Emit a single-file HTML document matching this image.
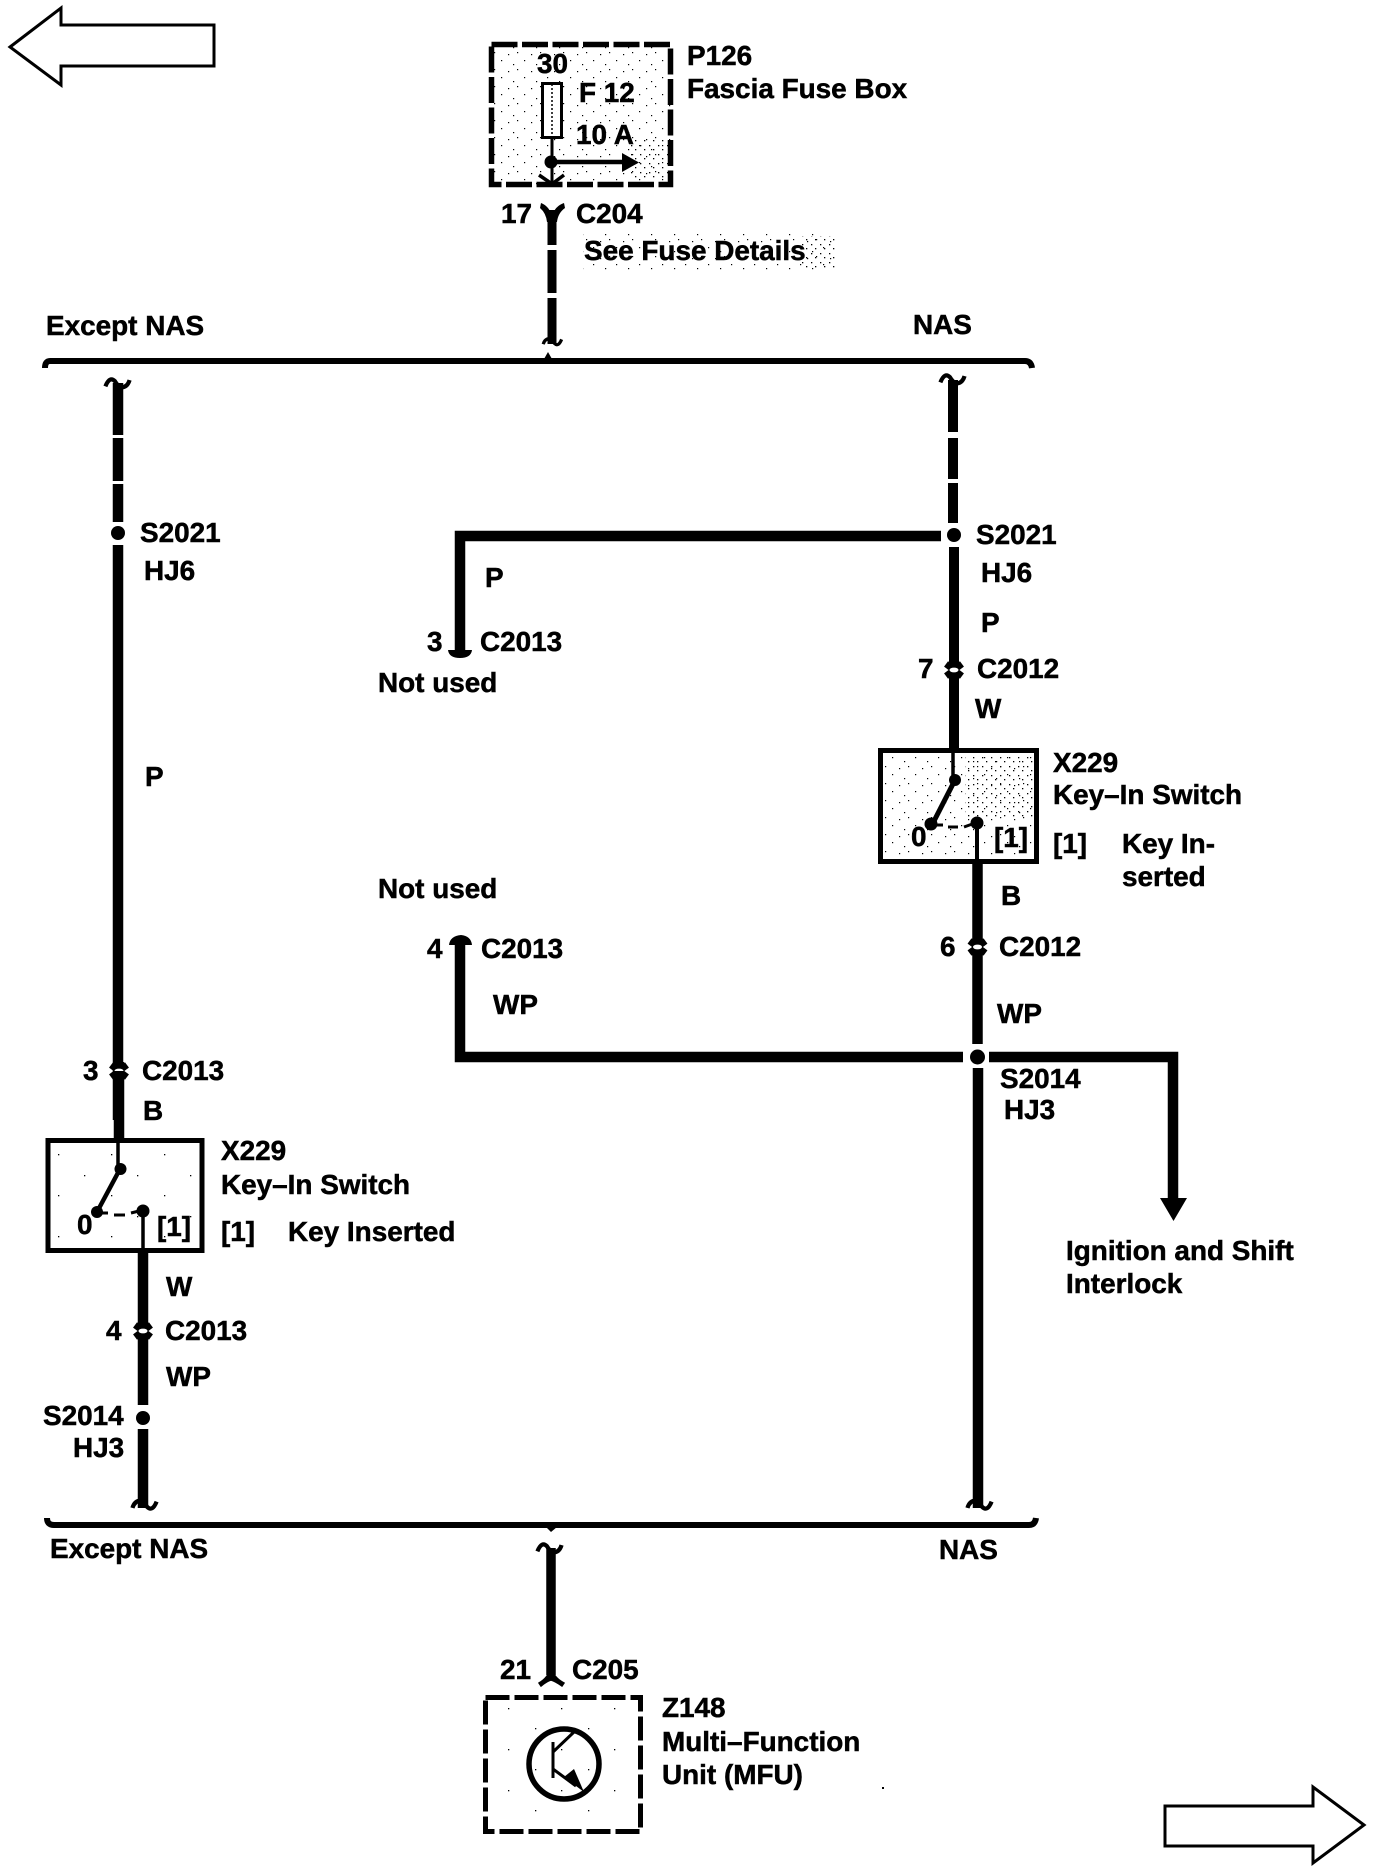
<!DOCTYPE html>
<html><head><meta charset="utf-8"><title>Wiring diagram</title>
<style>
html,body{margin:0;padding:0;background:#fff}
svg{display:block}
text{font-family:"Liberation Sans",sans-serif;font-weight:bold;font-size:27.9px;fill:#000;stroke:#000;stroke-width:.5px}
</style></head><body>
<svg width="1376" height="1872" viewBox="0 0 1376 1872" xmlns="http://www.w3.org/2000/svg">
<defs>
<pattern id="st" width="23" height="17" patternUnits="userSpaceOnUse">
<rect x="2" y="3" width="1.2" height="1.2" fill="#000"/><rect x="11" y="1" width="1.2" height="1.2" fill="#000"/><rect x="18" y="9" width="1.2" height="1.2" fill="#000"/><rect x="7" y="13" width="1.2" height="1.2" fill="#000"/>
</pattern>
<pattern id="sd" width="9" height="9" patternUnits="userSpaceOnUse">
<rect x="1" y="1" width="1.3" height="1.3" fill="#000"/><rect x="5" y="5" width="1.3" height="1.3" fill="#000"/>
</pattern>
<pattern id="sl" width="53" height="41" patternUnits="userSpaceOnUse">
<rect x="5" y="6" width="1.3" height="1.3" fill="#000"/><rect x="31" y="27" width="1.3" height="1.3" fill="#000"/>
</pattern>
<g id="cx"><path d="M-8-6 8 6M8-6-8 6" stroke="#000" stroke-width="6.500" fill="none"/><rect x="-5.200" y="-9" width="10.400" height="18" fill="#000"/><ellipse rx="4.500" ry="2.400" fill="#fff"/></g>
<path id="sq" d="M-12 7Q-8-3-3 2Q0 7 3 8Q9 8 11 1" fill="none" stroke="#000" stroke-width="4"/>
</defs>

<!-- page arrows -->
<path d="M10 47 61 8V25H214V66H61V85Z" fill="#fff" stroke="#000" stroke-width="3"/>
<path d="M1364 1825 1313 1787V1806H1165V1846H1313V1863Z" fill="#fff" stroke="#000" stroke-width="3"/>

<!-- fuse box -->
<rect x="492" y="45" width="179" height="140" fill="url(#st)"/>
<rect x="630" y="140" width="38" height="40" fill="url(#sd)"/>
<rect x="491.500" y="44.500" width="179" height="140" fill="none" stroke="#000" stroke-width="5.500" stroke-dasharray="26 4.500"/>
<rect x="542.500" y="83.500" width="19" height="54" fill="#fff" stroke="#000" stroke-width="3"/>
<path d="M552 84V137" stroke="#000" stroke-width="1.500" stroke-dasharray="2 2"/>
<path d="M552 138V185" stroke="#000" stroke-width="3"/>
<circle cx="551" cy="162" r="6.500"/>
<path d="M551 162H625" stroke="#000" stroke-width="4.500"/>
<path d="M622 153 639 162.500 622 172Z"/>
<path d="M539 175 552 184 564 175" fill="none" stroke="#000" stroke-width="3.500"/>
<text x="537" y="73">30</text>
<text x="579" y="102">F 12</text>
<text x="576" y="144">10 A</text>
<text x="687" y="65">P126</text>
<text x="687" y="98">Fascia Fuse Box</text>

<!-- connector c204 and top wire -->
<text x="501" y="223">17</text>
<text x="576" y="223">C204</text>
<path d="M541 203Q549 206 552 216Q555 206 564 203L565 208Q558 213 557 222H547Q546 213 540 208Z"/>
<path d="M552 210V245M552 250V293M552 298V344" stroke="#000" stroke-width="9" fill="none"/>
<use href="#sq" transform="translate(552 345) rotate(180) scale(.8)"/>
<rect x="583" y="233" width="252" height="38" fill="url(#st)"/>
<rect x="800" y="236" width="35" height="34" fill="url(#sd)"/>
<text x="584" y="260">See Fuse Details</text>

<!-- top bus -->
<text x="46" y="335">Except NAS</text>
<text x="913" y="334">NAS</text>
<path d="M45 368Q45 361 50 361H1025Q1031 361 1032 368" fill="none" stroke="#000" stroke-width="6"/>
<path d="M544 359 548 352 552 359Z"/>

<!-- left wire -->
<use href="#sq" transform="translate(118 379) scale(1.05)"/>
<path d="M118 383V435M118 438V481M118 484V522M118 545V1120" stroke="#000" stroke-width="10.500" fill="none"/>
<circle cx="118" cy="533" r="7"/>
<text x="140" y="542">S2021</text>
<text x="144" y="580">HJ6</text>
<text x="145" y="786">P</text>
<use href="#cx" transform="translate(119 1071)"/>
<text x="83" y="1080">3</text>
<text x="142" y="1080">C2013</text>
<path d="M119 1071V1140" stroke="#000" stroke-width="10.500"/>
<text x="143" y="1120">B</text>

<!-- left switch -->
<rect x="48" y="1140.500" width="154" height="110" fill="url(#sl)" stroke="#000" stroke-width="5"/>
<path d="M118 1140V1169" stroke="#000" stroke-width="3.500"/>
<circle cx="120.500" cy="1169" r="6"/>
<path d="M120 1169 97 1212" stroke="#000" stroke-width="4.500"/>
<circle cx="97" cy="1212" r="6"/>
<path d="M97 1213H108M114 1215H125M131 1213 143 1210" stroke="#000" stroke-width="3"/>
<circle cx="143" cy="1211" r="6.500"/>
<path d="M143 1211V1253" stroke="#000" stroke-width="3.500"/>
<text x="77" y="1234">0</text>
<text x="157" y="1236">[1]</text>
<text x="221" y="1160">X229</text>
<text x="221" y="1194">Key–In Switch</text>
<text x="221" y="1241">[1]</text>
<text x="288" y="1241">Key Inserted</text>

<!-- left lower wire -->
<path d="M143 1253V1405M143 1429V1508" stroke="#000" stroke-width="10.500" fill="none"/>
<use href="#cx" transform="translate(143 1331)"/>
<circle cx="143" cy="1418" r="7"/>
<use href="#sq" transform="translate(144 1509) rotate(180) scale(1.05)"/>
<text x="166" y="1296">W</text>
<text x="106" y="1340">4</text>
<text x="165" y="1340">C2013</text>
<text x="166" y="1386">WP</text>
<text x="43" y="1425">S2014</text>
<text x="73" y="1457">HJ3</text>

<!-- right top wire -->
<use href="#sq" transform="translate(953 375) scale(1.05)"/>
<path d="M953 380V432M953 438V479M953 483V523M954 547V750" stroke="#000" stroke-width="10" fill="none"/>
<circle cx="954" cy="535" r="7"/>
<path d="M941 536H460V652" stroke="#000" stroke-width="10.500" fill="none"/>
<path d="M448 650Q449 658 460 658Q471 658 472 650Z"/>
<text x="976" y="544">S2021</text>
<text x="981" y="582">HJ6</text>
<text x="981" y="632">P</text>
<text x="485" y="587">P</text>
<text x="427" y="651">3</text>
<text x="480" y="651">C2013</text>
<text x="378" y="692">Not used</text>
<use href="#cx" transform="translate(954 670)"/>
<text x="918" y="678">7</text>
<text x="977" y="678">C2012</text>
<text x="975" y="718">W</text>

<!-- right switch -->
<rect x="880.500" y="750.500" width="156" height="111" fill="url(#st)"/>
<rect x="965" y="755" width="68" height="65" fill="url(#sd)"/>
<rect x="880.500" y="750.500" width="156" height="111" fill="none" stroke="#000" stroke-width="5"/>
<path d="M953 750V779" stroke="#000" stroke-width="3.500"/>
<circle cx="955" cy="780" r="6"/>
<path d="M955 780 933 823" stroke="#000" stroke-width="5"/>
<circle cx="931" cy="824" r="6.500"/>
<path d="M931 825H943M948 827H958M964 827 978 822" stroke="#000" stroke-width="3"/>
<circle cx="977" cy="823" r="6.500"/>
<path d="M977 823V864" stroke="#000" stroke-width="4"/>
<text x="911" y="846">0</text>
<text x="994" y="847">[1]</text>
<text x="1053" y="772">X229</text>
<text x="1053" y="804">Key–In Switch</text>
<text x="1053" y="853">[1]</text>
<text x="1122" y="853">Key In-</text>
<text x="1122" y="886">serted</text>

<!-- right lower wire -->
<path d="M977.500 864V1044M978 1068V1508" stroke="#000" stroke-width="10.500" fill="none"/>
<use href="#cx" transform="translate(977.500 947)"/>
<circle cx="977.500" cy="1057" r="7.500"/>
<use href="#sq" transform="translate(979 1509) rotate(180) scale(1.05)"/>
<text x="1001" y="905">B</text>
<text x="940" y="956">6</text>
<text x="999" y="956">C2012</text>
<text x="997" y="1023">WP</text>
<text x="1000" y="1088">S2014</text>
<text x="1004" y="1119">HJ3</text>

<!-- branch wires -->
<path d="M963 1057H460V940" stroke="#000" stroke-width="10.500" fill="none"/>
<path d="M449 945Q450 936 461 935Q471 936 472 945Z"/>
<path d="M989 1057H1173V1200" stroke="#000" stroke-width="10.500" fill="none"/>
<path d="M1160 1198H1187L1173.500 1221Z"/>
<text x="378" y="898">Not used</text>
<text x="427" y="958">4</text>
<text x="481" y="958">C2013</text>
<text x="493" y="1014">WP</text>
<text x="1066" y="1260">Ignition and Shift</text>
<text x="1066" y="1293">Interlock</text>

<!-- bottom bus -->
<path d="M47 1518Q47 1525 54 1525H1029Q1035 1525 1036 1518" fill="none" stroke="#000" stroke-width="6"/>
<path d="M546 1527H557L551 1532Z"/>
<text x="50" y="1558">Except NAS</text>
<text x="939" y="1559">NAS</text>

<!-- bottom wire -->
<use href="#sq" transform="translate(550 1544) scale(1.05)"/>
<path d="M551 1548V1675" stroke="#000" stroke-width="9.500"/>
<path d="M539 1683Q548 1678 551 1668Q554 1678 564 1683L562 1686Q555 1681 551 1680Q547 1681 541 1686Z" stroke="#000" stroke-width="1.500"/>
<text x="500" y="1679">21</text>
<text x="572" y="1679">C205</text>

<!-- Z148 -->
<rect x="486" y="1698" width="155" height="133" fill="url(#sl)"/>
<rect x="485.500" y="1697.500" width="155" height="134" fill="none" stroke="#000" stroke-width="5" stroke-dasharray="24 5"/>
<ellipse cx="564" cy="1764" rx="35" ry="35" fill="none" stroke="#000" stroke-width="5.500"/>
<path d="M553 1742V1778" stroke="#000" stroke-width="3"/>
<path d="M553 1752 574 1732M553 1769 576 1786" stroke="#000" stroke-width="3" fill="none"/>
<path d="M564 1777 584 1792 574 1769Z"/>
<text x="662" y="1717">Z148</text>
<text x="662" y="1751">Multi–Function</text>
<text x="662" y="1784">Unit (MFU)</text>
<rect x="882" y="1787" width="2" height="2"/>
</svg>
</body></html>
